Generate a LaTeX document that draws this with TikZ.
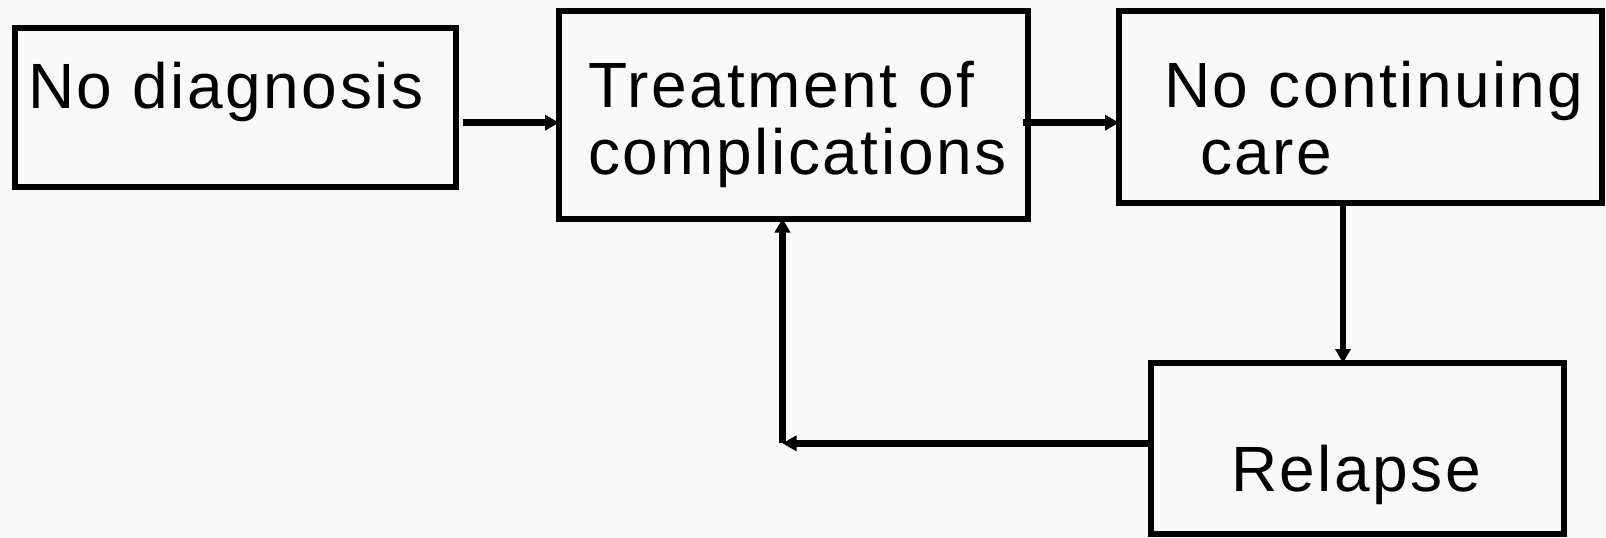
\documentclass[tikz,border=0pt]{standalone}
\usepackage{fontspec}
\setmainfont{Liberation Sans}[LetterSpace=4]
\usetikzlibrary{arrows.meta}
\definecolor{paper}{RGB}{249,249,249}
\begin{document}
\begin{tikzpicture}[x=1pt,y=-1pt,
  box/.style={draw=black,line width=6pt,rectangle,inner sep=0pt,outer sep=0pt,fill=paper},
  label/.style={anchor=base west,inner sep=0pt,outer sep=0pt,
    font=\fontsize{64}{67}\selectfont},
  arr/.style={line width=6.5pt,-{Triangle[length=14pt,width=15pt]}}]
  % canvas
  \fill[paper] (0,0) rectangle (1606,538);
  \useasboundingbox (0,0) rectangle (1606,538);

  % boxes
  \node[box,minimum width=440.5pt,minimum height=159pt]   (nodiag) at (235.25,107) {};
  \node[box,minimum width=468.5pt,minimum height=207.5pt] (treat)  at (793.25,114.75) {};
  \node[box,minimum width=482.5pt,minimum height=191.5pt] (nocare) at (1360.25,106.75) {};
  \node[box,minimum width=413pt,minimum height=171pt]     (relapse) at (1357,448.5) {};

  % texts
  \node[label] (t1)  at (28,108)    {No diagnosis};
  \node[label] (t2a) at (588,107.5) {Treatment of};
  \node[label] (t2b) at (588,174)   {complications};
  \node[label] (t3a) at (1164,107.5){No continuing};
  \node[label] (t3b) at (1200,174)  {care};
  \node[label] (t4)  at (1231,491)  {Relapse};

  % connectors
  \coordinate (corner) at (782.5,443.3);
  \draw[arr] ([xshift=7.5pt,yshift=-15.7pt]nodiag.east) -- ([yshift=-7.95pt]treat.west);
  \draw[arr] ([xshift=-4.5pt,yshift=-7.95pt]treat.east) -- ([yshift=-15.95pt]nocare.west);
  \draw[arr] ([xshift=-17.25pt]nocare.south) -- ([xshift=-14pt]relapse.north);
  \draw[arr] ([yshift=5.2pt]relapse.west) -- (corner);
  \draw[arr] (corner) -- (corner |- treat.south);
\end{tikzpicture}
\end{document}
